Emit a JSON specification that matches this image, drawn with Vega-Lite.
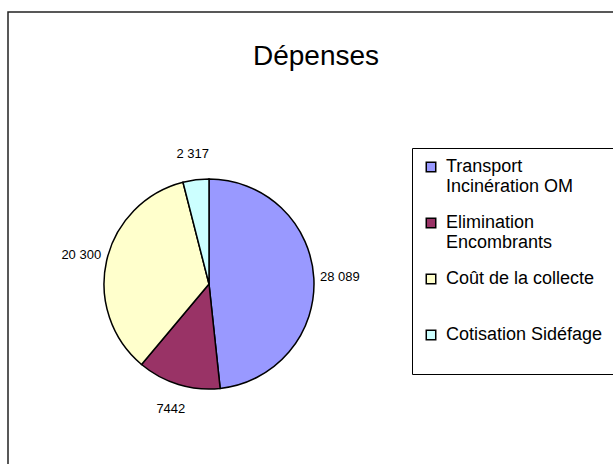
{
  "$schema": "https://vega.github.io/schema/vega-lite/v6.json",
  "autosize": "none",
  "padding": {"left": 8, "top": 12, "right": 0, "bottom": 0},
  "width": 616,
  "height": 460,
  "background": "white",
  "config": {
    "view": {"stroke": "#222222", "strokeWidth": 1.5},
    "font": "Liberation Sans"
  },
  "title": {
    "text": "Dépenses",
    "anchor": "middle",
    "offset": -60,
    "fontSize": 28,
    "fontWeight": "normal",
    "font": "Liberation Sans",
    "color": "black"
  },
  "data": {
    "values": [
      {"poste": "Transport Incinération OM", "valeur": 28089, "libelle": "28 089", "ordre": 1},
      {"poste": "Elimination Encombrants", "valeur": 7442, "libelle": "7442", "ordre": 2},
      {"poste": "Coût de la collecte", "valeur": 20300, "libelle": "20 300", "ordre": 3},
      {"poste": "Cotisation Sidéfage", "valeur": 2317, "libelle": "2 317", "ordre": 4}
    ]
  },
  "layer": [
    {
      "data": {"values": [{"cadre": 1}]},
      "mark": {"type": "rect", "fill": null, "fillOpacity": 0, "stroke": "#222222", "strokeWidth": 1.5},
      "encoding": {}
    },
    {
      "mark": {"type": "arc", "x": 201, "y": 272, "outerRadius": 105, "stroke": "black", "strokeWidth": 1.5},
      "encoding": {
        "theta": {"field": "valeur", "type": "quantitative", "stack": true},
        "order": {"field": "ordre", "type": "ordinal"},
        "color": {
          "field": "poste",
          "type": "nominal",
          "scale": {
            "domain": ["Transport Incinération OM", "Elimination Encombrants", "Coût de la collecte", "Cotisation Sidéfage"],
            "range": ["#9999FF", "#993366", "#FFFFCC", "#CCFFFF"]
          },
          "legend": {
            "title": null,
            "orient": "none",
            "legendX": 404,
            "legendY": 136,
            "strokeColor": "black",
            "padding": 10,
            "symbolType": "square",
            "symbolSize": 90,
            "symbolStrokeColor": "black",
            "symbolStrokeWidth": 1.5,
            "labelFont": "Liberation Sans",
            "labelFontSize": 18,
            "labelOffset": 6,
            "labelColor": "black",
            "labelLimit": 300,
            "rowPadding": 18,
            "labelExpr": "datum.label == 'Transport Incinération OM' ? ['Transport', 'Incinération OM'] : datum.label == 'Elimination Encombrants' ? ['Elimination', 'Encombrants'] : [datum.label, '']"
          }
        }
      }
    },
    {
      "mark": {"type": "text", "x": 201, "y": 272, "radius": 131, "fontSize": 13, "font": "Liberation Sans", "color": "black"},
      "encoding": {
        "theta": {"field": "valeur", "type": "quantitative", "stack": true},
        "order": {"field": "ordre", "type": "ordinal"},
        "text": {"field": "libelle", "type": "nominal"}
      }
    }
  ]
}
